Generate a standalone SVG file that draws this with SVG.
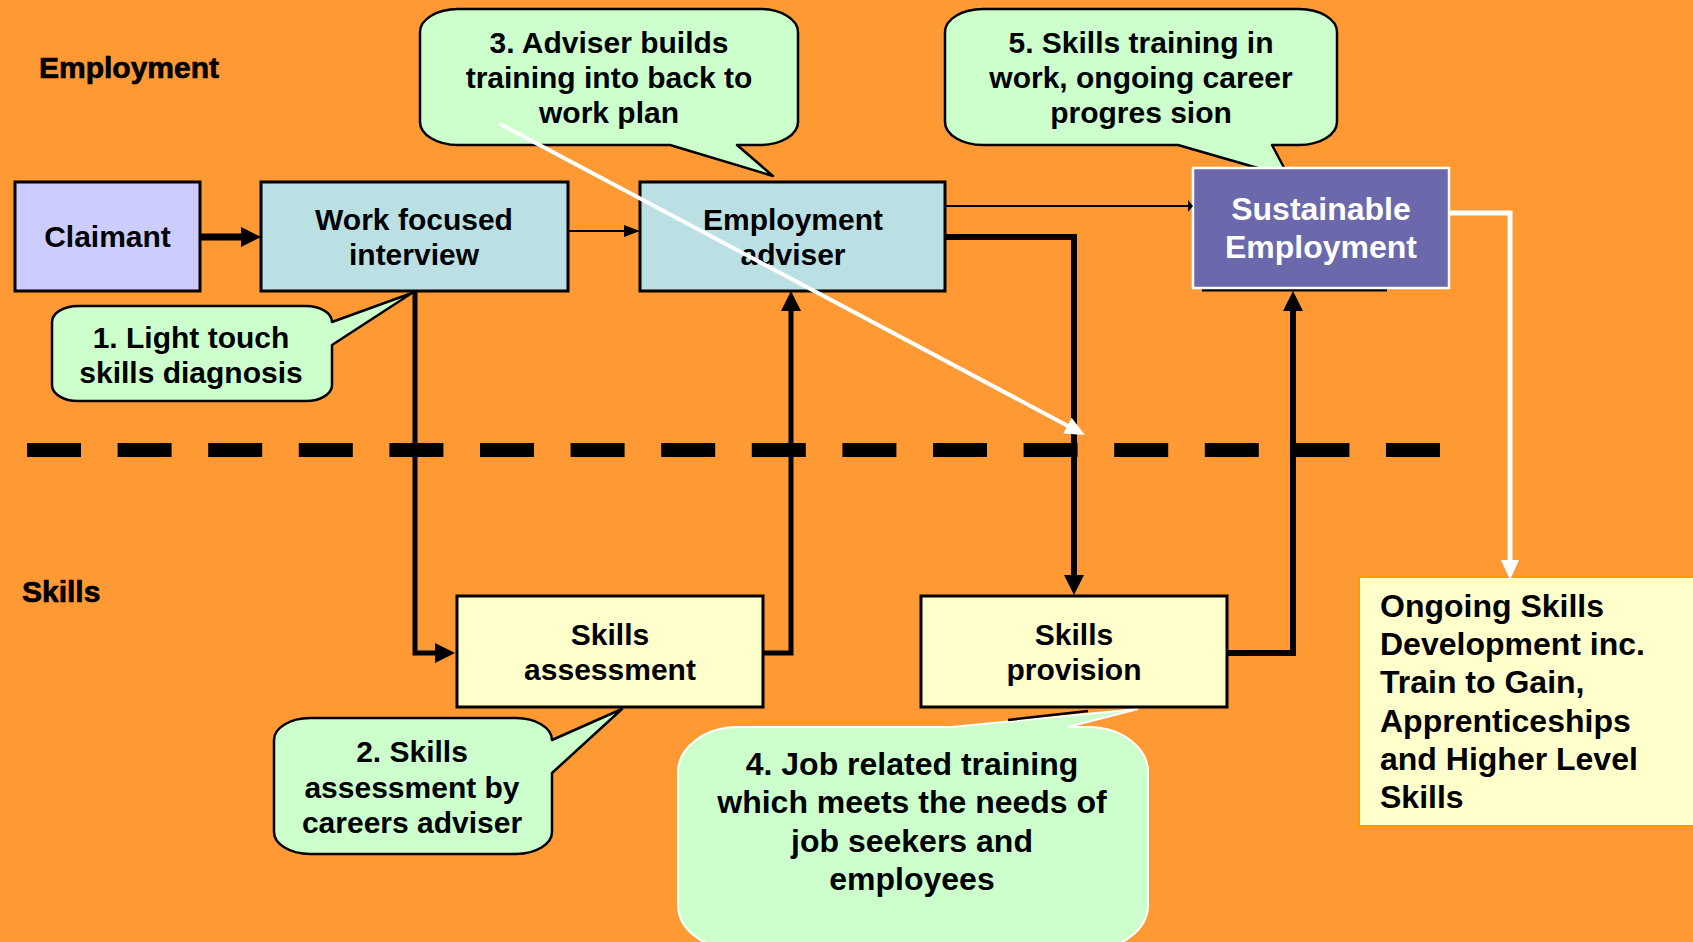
<svg xmlns="http://www.w3.org/2000/svg" width="1693" height="942" viewBox="0 0 1693 942">
<style>
  text { font-family: "Liberation Sans", Arial, sans-serif; font-weight: bold; fill: #000; }
  .c { text-anchor: middle; font-size: 30px; }
  .big { text-anchor: middle; font-size: 32px; }
  .lab { font-size: 30px; stroke: #000; stroke-width: 0.7px; }
  .box { stroke: #000; stroke-width: 3; }
  .call { fill: #CCFFCC; stroke: #000; stroke-width: 2.5; stroke-linejoin: round; }
  .blk { fill: none; stroke: #000; stroke-linejoin: miter; }
  .wht { fill: none; stroke: #FFF; stroke-linejoin: miter; }
</style>
<defs>
  <marker id="ab" markerUnits="userSpaceOnUse" viewBox="0 0 20 20" markerWidth="20" markerHeight="20" refX="6" refY="10" orient="auto">
    <path d="M0,0 L20,10 L0,20 Z" fill="#000"/>
  </marker>
  <marker id="as" markerUnits="userSpaceOnUse" viewBox="0 0 16 12" markerWidth="16" markerHeight="12" refX="6" refY="6" orient="auto">
    <path d="M0,0 L16,6 L0,12 Z" fill="#000"/>
  </marker>
  <marker id="at" markerUnits="userSpaceOnUse" viewBox="0 0 5 12" markerWidth="5" markerHeight="12" refX="0" refY="6" orient="auto">
    <path d="M0,0 L5,6 L0,12 Z" fill="#000"/>
  </marker>
  <marker id="aw" markerUnits="userSpaceOnUse" viewBox="0 0 20 18" markerWidth="20" markerHeight="18" refX="6" refY="9" orient="auto">
    <path d="M0,0 L20,9 L0,18 Z" fill="#FFF"/>
  </marker>
</defs>
<rect x="0" y="0" width="1693" height="942" fill="#FF9933"/>

<g id="lane-labels">
  <text class="lab" x="39" y="78">Employment</text>
  <text class="lab" x="22" y="602">Skills</text>
</g>

<g id="callout-3">
  <path class="call" d="M458,9 H760 A38,23 0 0 1 798,32 V122 A38,23 0 0 1 760,145 H737 L773,176 L670,145 H458 A38,23 0 0 1 420,122 V32 A38,23 0 0 1 458,9 Z"/>
  <text class="c" x="609" y="53">3. Adviser builds</text>
  <text class="c" x="609" y="88">training into back to</text>
  <text class="c" x="609" y="123">work plan</text>
</g>
<g id="callout-5">
  <path class="call" d="M983,9 H1299 A38,23 0 0 1 1337,32 V122 A38,23 0 0 1 1299,145 H1272 L1289,177 L1178,145 H983 A38,23 0 0 1 945,122 V32 A38,23 0 0 1 983,9 Z"/>
  <text class="c" x="1141" y="53">5. Skills training in</text>
  <text class="c" x="1141" y="88">work, ongoing career</text>
  <text class="c" x="1141" y="123">progres sion</text>
</g>
<g id="callout-1">
  <path class="call" d="M78,306 H306 A26,16 0 0 1 332,322 L412,293 L332,345 V385 A26,16 0 0 1 306,401 H78 A26,16 0 0 1 52,385 V322 A26,16 0 0 1 78,306 Z"/>
  <text class="c" x="191" y="348">1. Light touch</text>
  <text class="c" x="191" y="383">skills diagnosis</text>
</g>
<g id="callout-2">
  <path class="call" d="M310,718 H516 A36,22 0 0 1 552,740 L622,709 L552,773 V832 A36,22 0 0 1 516,854 H310 A36,22 0 0 1 274,832 V740 A36,22 0 0 1 310,718 Z"/>
  <text class="c" x="412" y="762">2. Skills</text>
  <text class="c" x="412" y="798">assessment by</text>
  <text class="c" x="412" y="833">careers adviser</text>
</g>
<g id="callout-4">
  <path d="M738,727 H952 L1138,709 L1068,727 H1088 A60,45 0 0 1 1148,772 V905 A60,45 0 0 1 1088,950 H738 A60,45 0 0 1 678,905 V772 A60,45 0 0 1 738,727 Z" fill="#CCFFCC" stroke="#FFF" stroke-width="2"/>
  <line x1="1008" y1="720" x2="1088" y2="711" stroke="#000" stroke-width="2.5"/>
  <text class="big" x="912" y="775">4. Job related training</text>
  <text class="big" x="912" y="813">which meets the needs of</text>
  <text class="big" x="912" y="852">job seekers and</text>
  <text class="big" x="912" y="890">employees</text>
</g>

<g id="claimant">
  <rect class="box" x="15" y="182" width="185" height="109" fill="#CCCCFF"/>
  <text class="c" x="107.5" y="247">Claimant</text>
</g>
<g id="work-focused-interview">
  <rect class="box" x="261" y="182" width="307" height="109" fill="#BBE0E3"/>
  <text class="c" x="414" y="230">Work focused</text>
  <text class="c" x="414" y="265">interview</text>
</g>
<g id="employment-adviser">
  <rect class="box" x="640" y="182" width="305" height="109" fill="#BBE0E3"/>
  <text class="c" x="793" y="230">Employment</text>
  <text class="c" x="793" y="265">adviser</text>
</g>
<g id="sustainable-employment">
  <line x1="1202" y1="290" x2="1387" y2="290" stroke="#000" stroke-width="3"/>
  <rect x="1193" y="168" width="256" height="120" fill="#6B69AC" stroke="#FFF" stroke-width="2.5"/>
  <text class="big" x="1321" y="220" style="fill:#FFF">Sustainable</text>
  <text class="big" x="1321" y="258" style="fill:#FFF">Employment</text>
</g>
<g id="skills-assessment">
  <rect class="box" x="457" y="596" width="306" height="111" fill="#FFFFCC"/>
  <text class="c" x="610" y="645">Skills</text>
  <text class="c" x="610" y="680">assessment</text>
</g>
<g id="skills-provision">
  <rect class="box" x="921" y="596" width="306" height="111" fill="#FFFFCC"/>
  <text class="c" x="1074" y="645">Skills</text>
  <text class="c" x="1074" y="680">provision</text>
</g>
<g id="ongoing-skills">
  <rect x="1359" y="577" width="345" height="249" fill="#FFFFCC" stroke="#FF9900" stroke-width="2"/>
  <text x="1380" y="617" style="font-size:32px">Ongoing Skills</text>
  <text x="1380" y="655" style="font-size:32px">Development inc.</text>
  <text x="1380" y="693" style="font-size:32px">Train to Gain,</text>
  <text x="1380" y="732" style="font-size:32px">Apprenticeships</text>
  <text x="1380" y="770" style="font-size:32px">and Higher Level</text>
  <text x="1380" y="808" style="font-size:32px">Skills</text>
</g>

<g id="divider">
  <line x1="27" y1="450" x2="1440" y2="450" stroke="#000" stroke-width="14" stroke-dasharray="54 36.6"/>
</g>

<g id="connectors">
  <path class="blk" d="M200,237 H247" stroke-width="7" marker-end="url(#ab)"/>
  <path class="blk" d="M568,231 H630" stroke-width="2" marker-end="url(#as)"/>
  <path class="blk" d="M945,206 H1188" stroke-width="2" marker-end="url(#at)"/>
  <path class="blk" d="M415,291 V653 H441" stroke-width="5" marker-end="url(#ab)"/>
  <path class="blk" d="M763,653 H791 V305" stroke-width="5" marker-end="url(#ab)"/>
  <path class="blk" d="M945,237 H1074 V581" stroke-width="6" marker-end="url(#ab)"/>
  <path class="blk" d="M1227,653 H1293 V305" stroke-width="6" marker-end="url(#ab)"/>
  <path class="wht" d="M1449,213 H1510 V566" stroke-width="5" marker-end="url(#aw)"/>
  <path class="wht" d="M500,124 L1072.6,428.4" stroke-width="4" marker-end="url(#aw)"/>
</g>
</svg>
